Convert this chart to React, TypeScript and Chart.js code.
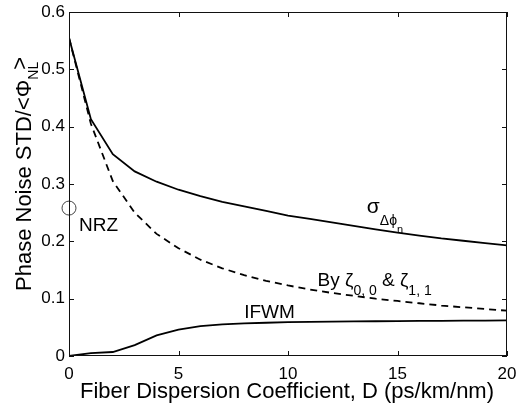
import React, { useEffect, useRef } from 'react';
import { Chart, registerables } from 'chart.js';
Chart.register(...registerables);

// Fiber dispersion D (ps/km/nm)
const dispersion = [0, 1, 2, 3, 4, 5, 6, 7, 8, 9, 10, 11, 12, 13, 14, 15, 16, 17, 18, 19, 20];
// sigma_{Delta phi_n} (solid)
const sigmaDeltaPhi = [0.555, 0.413, 0.352, 0.322, 0.304, 0.290, 0.279, 0.269, 0.261, 0.253, 0.245, 0.239, 0.233, 0.227, 0.221, 0.215, 0.210, 0.205, 0.201, 0.197, 0.193];
// By zeta_{0,0} & zeta_{1,1} (dashed)
const zetaApprox = [0.555, 0.405, 0.305, 0.250, 0.213, 0.188, 0.168, 0.153, 0.141, 0.131, 0.123, 0.116, 0.110, 0.105, 0.100, 0.096, 0.092, 0.088, 0.085, 0.082, 0.079];
// IFWM (solid, bottom)
const ifwm = [0.0, 0.005, 0.007, 0.019, 0.036, 0.046, 0.052, 0.055, 0.057, 0.058, 0.059, 0.0595, 0.060, 0.0603, 0.0606, 0.061, 0.0612, 0.0614, 0.0616, 0.0618, 0.062];
// NRZ reference point
const nrzD = [0];
const nrzValue = [0.258];

const xTicks = [0, 5, 10, 15, 20];
const yTicks = [0, 0.1, 0.2, 0.3, 0.4, 0.5, 0.6];

const FAMILY = '"Liberation Sans", Arial, Helvetica, sans-serif';
const f = (s: number) => `${s}px ${FAMILY}`;

type Run = { t: string; size: number; dy: number; back?: number };

function drawRuns(ctx: CanvasRenderingContext2D, x0: number, y0: number, runs: Run[]) {
  let x = x0;
  for (const r of runs) {
    ctx.font = f(r.size);
    x -= r.back || 0;
    ctx.fillText(r.t, x, y0 + r.dy);
    x += ctx.measureText(r.t).width;
  }
}

const decorPlugin = {
  id: 'decor',
  afterDatasetsDraw(chart: any) {
    const { ctx, chartArea: a, scales } = chart;
    const xs = scales.x;
    const ys = scales.y;
    ctx.save();
    // frame
    ctx.strokeStyle = '#111';
    ctx.lineWidth = 1;
    ctx.strokeRect(a.left + 0.5, a.top + 0.5, a.right - a.left - 1, a.bottom - a.top - 1);
    const tl = 5;
    ctx.beginPath();
    for (const v of xTicks) {
      const px = Math.round(xs.getPixelForValue(v)) + 0.5;
      ctx.moveTo(px, a.bottom);
      ctx.lineTo(px, a.bottom - tl);
      ctx.moveTo(px, a.top);
      ctx.lineTo(px, a.top + tl);
    }
    for (const v of yTicks) {
      const py = Math.round(ys.getPixelForValue(v)) + 0.5;
      ctx.moveTo(a.left, py);
      ctx.lineTo(a.left + tl, py);
      ctx.moveTo(a.right, py);
      ctx.lineTo(a.right - tl, py);
    }
    ctx.stroke();

    ctx.fillStyle = '#000';
    ctx.textAlign = 'left';
    ctx.textBaseline = 'alphabetic';

    // annotations
    drawRuns(ctx, xs.getPixelForValue(13.6), ys.getPixelForValue(0.249), [
      { t: 'σ', size: 21, dy: 0 },
      { t: 'Δϕ', size: 14, dy: 12 },
      { t: 'n', size: 11, dy: 20 },
    ]);
    drawRuns(ctx, xs.getPixelForValue(11.35), ys.getPixelForValue(0.122), [
      { t: 'By ζ', size: 19, dy: 0 },
      { t: '0, 0', size: 14, dy: 9 },
      { t: ' & ζ', size: 19, dy: 0 },
      { t: '1, 1', size: 14, dy: 9 },
    ]);
    drawRuns(ctx, xs.getPixelForValue(8.0), ys.getPixelForValue(0.066), [{ t: 'IFWM', size: 19, dy: 0 }]);
    drawRuns(ctx, xs.getPixelForValue(0.46), ys.getPixelForValue(0.218), [{ t: 'NRZ', size: 19, dy: 0 }]);

    // x title
    ctx.textAlign = 'center';
    ctx.font = f(22);
    ctx.fillText('Fiber Dispersion Coefficient, D (ps/km/nm)', (a.left + a.right) / 2 - 1, 398);

    // y title
    ctx.textAlign = 'left';
    ctx.translate(31, 291);
    ctx.rotate(-Math.PI / 2);
    drawRuns(ctx, 0, 0, [
      { t: 'Phase Noise STD/<Φ', size: 22, dy: 0 },
      { t: 'NL', size: 14, dy: 7 },
      { t: '>', size: 22, dy: -4, back: 8 },
    ]);
    ctx.restore();
  },
};

export default function App() {
  const ref = useRef<HTMLCanvasElement | null>(null);
  useEffect(() => {
    document.body.style.margin = '0';
    const canvas = ref.current!;
    const pts = (ys: number[]) => dispersion.map((d, i) => ({ x: d, y: ys[i] }));
    const chart = new Chart(canvas, {
      type: 'line',
      data: {
        datasets: [
          {
            label: 'sigma',
            data: pts(sigmaDeltaPhi),
            borderColor: '#000',
            borderWidth: 1.8,
            pointRadius: 0,
            tension: 0,
            fill: false,
          },
          {
            label: 'zeta',
            data: pts(zetaApprox),
            borderColor: '#000',
            borderWidth: 1.8,
            borderDash: [7, 5],
            pointRadius: 0,
            tension: 0,
            fill: false,
          },
          {
            label: 'IFWM',
            data: pts(ifwm),
            borderColor: '#000',
            borderWidth: 1.8,
            pointRadius: 0,
            tension: 0,
            fill: false,
          },
          {
            label: 'NRZ',
            data: nrzD.map((d, i) => ({ x: d, y: nrzValue[i] })),
            showLine: false,
            pointRadius: 7,
            pointStyle: 'circle',
            pointBorderColor: '#444',
            pointBackgroundColor: 'rgba(0,0,0,0)',
            pointBorderWidth: 1,
            clip: false as any,
          } as any,
        ],
      },
      options: {
        animation: false,
        responsive: false,
        events: [],
        layout: { padding: { top: 12, right: 9, left: 0, bottom: 0 } },
        plugins: { legend: { display: false }, tooltip: { enabled: false }, title: { display: false } },
        scales: {
          x: {
            type: 'linear',
            min: 0,
            max: 20,
            grid: { display: false, drawTicks: false },
            border: { display: false },
            afterBuildTicks: (s: any) => { s.ticks = xTicks.map((v) => ({ value: v })); },
            afterFit: (s: any) => { s.height = 51; s.paddingLeft = 0; s.paddingRight = 0; },
            ticks: {
              padding: 8,
              maxRotation: 0,
              autoSkip: false,
              color: '#000',
              font: { family: FAMILY, size: 17 },
              callback: (v: any) => String(v),
            },
          },
          y: {
            type: 'linear',
            min: 0,
            max: 0.6,
            grid: { display: false, drawTicks: false },
            border: { display: false },
            afterBuildTicks: (s: any) => { s.ticks = yTicks.map((v) => ({ value: v })); },
            afterFit: (s: any) => { s.width = 69; s.paddingTop = 0; s.paddingBottom = 0; },
            ticks: {
              padding: 4,
              autoSkip: false,
              color: '#000',
              font: { family: FAMILY, size: 17 },
              callback: (v: any) => (Number(v) === 0 ? '0' : Number(v).toFixed(1)),
            },
          },
        },
      },
      plugins: [decorPlugin],
    });
    return () => chart.destroy();
  }, []);
  return <canvas ref={ref} width={516} height={407} style={{ display: 'block', width: 516, height: 407 }} />;
}
